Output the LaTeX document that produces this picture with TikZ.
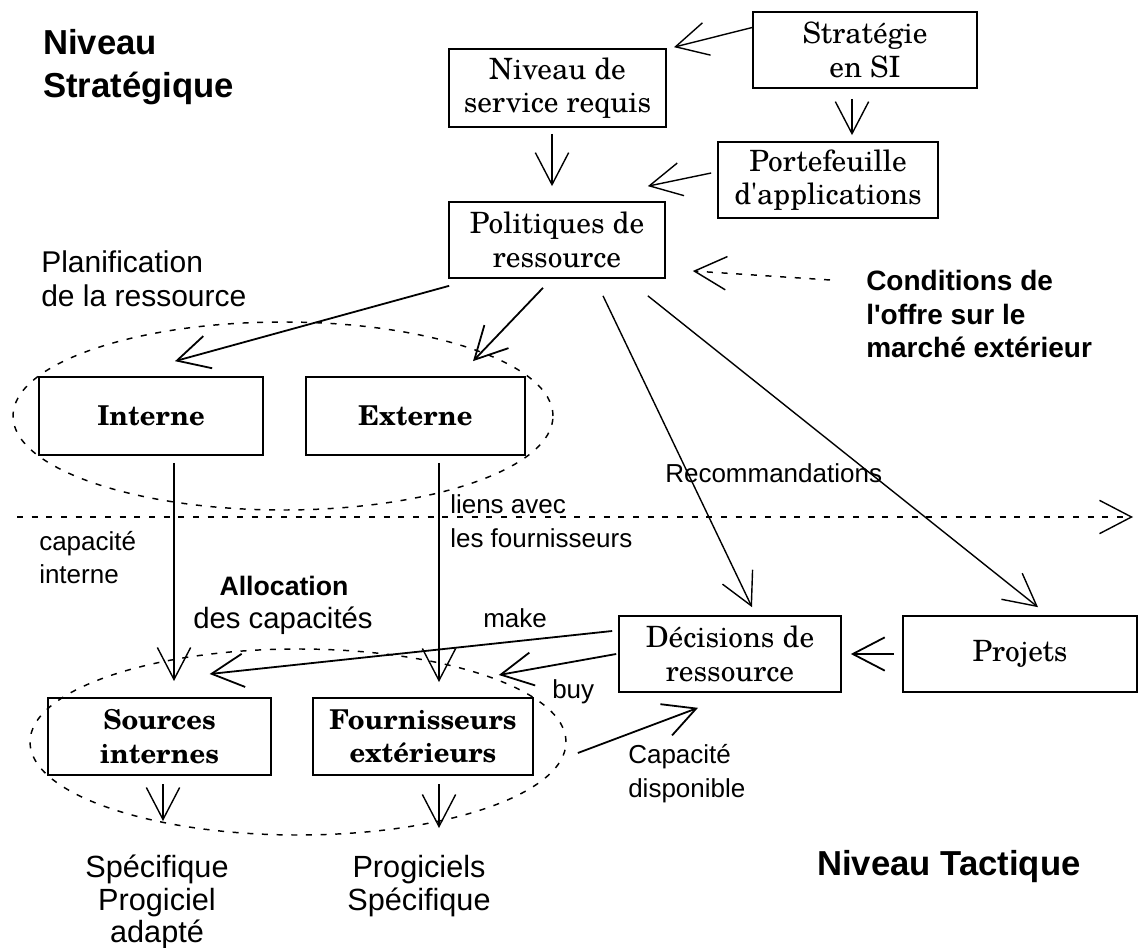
\documentclass[tikz,border=0pt]{standalone}
\usepackage{fontspec}
\setmainfont{Liberation Sans}
\newfontfamily\lsans{Liberation Sans}
\newfontfamily\scholafont{texgyreschola-regular.otf}[BoldFont=texgyreschola-bold.otf]
\usetikzlibrary{arrows.meta,calc}
\begin{document}
\begin{tikzpicture}[x=0.75pt,y=-0.75pt,
  box/.style={draw,line width=1.25pt,align=center,inner sep=0pt,
    font=\scholafont\fontsize{22pt}{25pt}\selectfont},
  bbox/.style={draw,line width=1.25pt,align=center,inner sep=0pt,
    font=\scholafont\bfseries\fontsize{20.5pt}{25pt}\selectfont},
  arr/.style={-{Straight Barb[length=24pt,width=25pt]},line width=1.05pt},
  arrb/.style={arr,line width=1.35pt},
  dashpat/.style={dash pattern=on 4.5pt off 6.5pt,line width=1.1pt},
  title/.style={font=\lsans\bfseries\fontsize{26pt}{30pt}\selectfont,inner sep=0pt,anchor=base west},
  plan/.style={font=\lsans\fontsize{22.5pt}{26pt}\selectfont,inner sep=0pt,anchor=base west},
  cond/.style={font=\lsans\bfseries\fontsize{21pt}{25pt}\selectfont,inner sep=0pt,anchor=base west},
  lbl/.style={font=\lsans\fontsize{19.5pt}{23pt}\selectfont,inner sep=0pt,anchor=base west},
  alloc/.style={font=\lsans\bfseries\fontsize{20pt}{24pt}\selectfont,inner sep=0pt,anchor=base},
  allocr/.style={font=\lsans\fontsize{22pt}{26pt}\selectfont,inner sep=0pt,anchor=base},
  big/.style={font=\lsans\fontsize{23pt}{27pt}\selectfont,inner sep=0pt,anchor=base}
]
\useasboundingbox[fill=white] (0,0) rectangle (1138,948);

% boxes
\node[box,minimum width=168pt,minimum height=57pt] (strat) at (865,50) {Stratégie\\en SI};
\node[box,minimum width=163pt,minimum height=58.5pt] (niveau) at (557.5,88) {Niveau de\\service requis};
\node[box,minimum width=165pt,minimum height=57pt] (porte) at (828,180) {Portefeuille\\d'applications};
\node[box,minimum width=162pt,minimum height=57pt] (polit) at (557,240) {Politiques de\\ressource};
\node[bbox,minimum width=168pt,minimum height=58.5pt] (interne) at (151,416) {Interne};
\node[bbox,minimum width=164pt,minimum height=58.5pt] (externe) at (415.5,416) {Externe};
\node[bbox,minimum width=167pt,minimum height=58pt] (sources) at (159.5,736.5) {Sources\\internes};
\node[bbox,minimum width=165pt,minimum height=58pt] (fourn) at (423,736.5) {Fournisseurs\\extérieurs};
\node[box,minimum width=166.5pt,minimum height=57pt] (decis) at (730,654) {Décisions de\\ressource};
\node[box,minimum width=175.5pt,minimum height=57pt] (projets) at (1020,654) {Projets};

% free texts
\node[title] (niv1) at (43,55) {Niveau};
\node[title] (niv2) at (43,98) {Stratégique};
\node[title] (tact) at (817,875) {Niveau Tactique};
\node[plan] (plan1) at (41,273) {Planification};
\node[plan] (plan2) at (41,307) {de la ressource};
\node[cond] (cond1) at (866,291) {Conditions de};
\node[cond] (cond2) at (866,325) {l'offre sur le};
\node[cond] (cond3) at (866,358) {marché extérieur};
\node[lbl] (capi1) at (39,550) {capacité};
\node[lbl] (capi2) at (39,583) {interne};
\node[lbl] (liens1) at (450,513) {liens avec};
\node[lbl] (liens2) at (450,547) {les fournisseurs};
\node[alloc] (alloc1) at (284,595) {Allocation};
\node[allocr] (alloc2) at (283,628) {des capacités};
\node[lbl] (reco) at (665,482) {Recommandations};
\node[lbl] (make) at (483,627) {make};
\node[lbl] (buy) at (552,698) {buy};
\node[lbl] (capd1) at (628,763) {Capacité};
\node[lbl] (capd2) at (628,797) {disponible};
\node[big] (spec1) at (157,877) {Spécifique};
\node[big] (spec2) at (157,910) {Progiciel};
\node[big] (spec3) at (157,942) {adapté};
\node[big] (prog1) at (419,877) {Progiciels};
\node[big] (prog2) at (419,910) {Spécifique};

% dashed ellipses and level line
\draw[dashpat] (283,416) ellipse [x radius=202.5pt,y radius=70.5pt];
\draw[dashpat] (298,742) ellipse [x radius=201pt,y radius=69.75pt];
\coordinate (hl1) at (17,517);
\coordinate (hl2) at (1133,517);
\draw[dashpat,arr] (hl1) -- (hl2);

% connectors
\draw[arr] ($(strat.west)+(0,-22.5)$) -- ($(niveau.north east)+(7,-1)$);
\draw[arr] ($(strat.south)+(-13,10)$) -- ($(porte.north)+(24,-6)$);
\draw[arr] ($(niveau.south)+(-5.5,6)$) -- ($(polit.north)+(-5,-15)$);
\draw[arr] ($(porte.west)+(-6,-7)$) -- ($(polit.north east)+(-18,-15)$);
\draw[arr,dashpat] ($(cond1.west)+(-36,-1)$) -- ($(polit.east)+(27,31)$);
\draw[arrb] ($(polit.south west)+(1,7)$) -- ($(interne.north)+(24,-15)$);
\draw[arrb] ($(polit.south)+(-14,9)$) -- ($(externe.north)+(57.5,-15)$);
\draw[arr] ($(polit.south)+(46,17)$) -- ($(decis.north)+(22,-8)$);
\draw[arr] ($(polit.south east)+(-18,17)$) -- ($(projets.north)+(18,-8)$);
\draw[arr] ($(interne.south)+(23,7)$) -- ($(sources.north)+(14.5,-16)$);
\draw[arr] ($(externe.south)+(23.5,7)$) -- ($(fourn.north)+(16,-15)$);
\draw[arrb] ($(decis.west)+(-6,-23)$) -- ($(sources.north east)+(-62,-23)$);
\draw[arrb] ($(decis.west)+(-2,0)$) -- ($(fourn.north east)+(-35,-22)$);
\draw[arrb] ($(fourn.east)+(44,16.5)$) -- ($(decis.south)+(-32,15)$);
\draw[arrb] ($(projets.west)+(-8,0)$) -- ($(decis.east)+(9,0)$);
\draw[arr] ($(sources.south)+(3.5,8)$) -- ($(sources.south)+(3.5,45)$);
\draw[arr] ($(fourn.south)+(16,8)$) -- ($(fourn.south)+(16,52)$);
\end{tikzpicture}
\end{document}
